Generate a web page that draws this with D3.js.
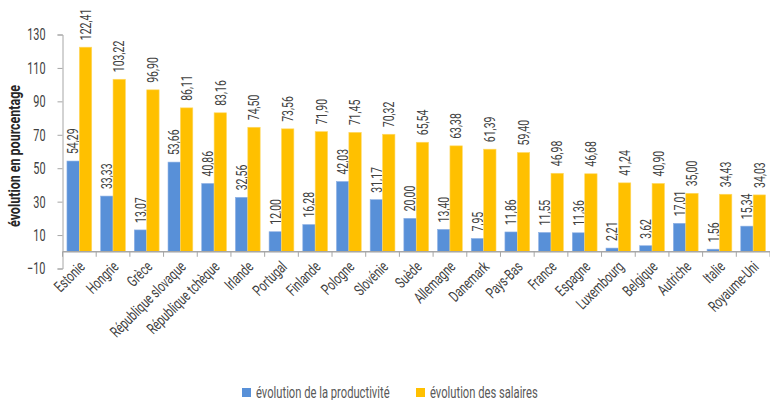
<!DOCTYPE html>
<html>
<head>
<meta charset="utf-8">
<script src="https://cdn.jsdelivr.net/npm/d3@7"></script>
<style>
  html, body { margin: 0; padding: 0; background: #fff; }
  svg { display: block; }
  text { font-family: Roboto, "Liberation Sans", sans-serif; }
</style>
</head>
<body>
<svg id="chart" width="770" height="400"></svg>
<script>
// Pays, classés par évolution des salaires
const countries = ["Estonie", "Hongrie", "Grèce", "République slovaque", "République tchèque",
  "Irlande", "Portugal", "Finlande", "Pologne", "Slovénie", "Suède", "Allemagne", "Danemark",
  "Pays-Bas", "France", "Espagne", "Luxembourg", "Belgique", "Autriche", "Italie", "Royaume-Uni"];
const productivity = [54.29, 33.33, 13.07, 53.66, 40.86, 32.56, 12.00, 16.28, 42.03, 31.17,
  20.00, 13.40, 7.95, 11.86, 11.55, 11.36, 2.21, 3.62, 17.01, 1.56, 15.34];
const wages = [122.41, 103.22, 96.90, 86.11, 83.16, 74.50, 73.56, 71.90, 71.45, 70.32,
  65.54, 63.38, 61.39, 59.40, 46.98, 46.68, 41.24, 40.90, 35.00, 34.43, 34.03];
const yTicks = [-10, 10, 30, 50, 70, 90, 110, 130];
const seriesNames = ["évolution de la productivité", "évolution des salaires"];
const seriesColors = ["#5890d8", "#ffc000"];

const svg = d3.select("#chart");
const plotLeft = 62.5, plotRight = 770, plotTop = 34.5, plotBottom = 268.5;
const narrow = 0.7;   // compression horizontale de la police (style condensé)

const x = d3.scaleBand().domain(countries).range([plotLeft, plotRight]).paddingInner(0).paddingOuter(0);
const xs = d3.scaleBand().domain([0, 1]).range([0, x.bandwidth()]).paddingInner(0).paddingOuter(0.36);
const y = d3.scaleLinear().domain([-10, 130]).range([plotBottom, plotTop]);

const fmt = v => d3.format(".2f")(v).replace(".", ",");

// axe vertical
const yAxis = svg.append("g")
  .attr("transform", `translate(${plotLeft},0)`)
  .call(d3.axisLeft(y).tickValues(yTicks).tickSize(5).tickFormat(""));
yAxis.select(".domain").attr("stroke", "#a6a6a6");
yAxis.selectAll(".tick line").attr("stroke", "#a6a6a6");
svg.append("g").selectAll("text")
  .data(yTicks)
  .join("text")
  .attr("transform", d => `translate(45.5,${y(d)}) scale(0.66,1)`)
  .attr("dy", "0.36em")
  .attr("text-anchor", "end")
  .attr("fill", "#404040")
  .style("font-size", "16.5px")
  .text(d => d3.format("d")(d));

// titre de l'axe
svg.append("text")
  .attr("transform", `translate(20,156) rotate(-90) scale(0.78,1)`)
  .attr("text-anchor", "middle")
  .attr("fill", "#262626")
  .style("font-size", "16px")
  .style("font-weight", "bold")
  .text("évolution en pourcentage");

// barres
const groups = svg.append("g").selectAll("g")
  .data(countries)
  .join("g")
  .attr("transform", d => `translate(${x(d)},0)`);

const series = [productivity, wages];
series.forEach((vals, s) => {
  groups.append("rect")
    .attr("x", xs(s))
    .attr("width", xs.bandwidth())
    .attr("y", (d, i) => y(Math.max(0, vals[i])))
    .attr("height", (d, i) => Math.abs(y(vals[i]) - y(0)))
    .attr("fill", seriesColors[s])
    .attr("stroke", s === 0 ? "#8db0e4" : "#ffd966")
    .attr("stroke-width", 0.6);

  groups.append("text")
    .attr("transform", (d, i) => `translate(${xs(s) + xs.bandwidth() / 2},${y(vals[i]) - 7}) rotate(-90) scale(${narrow},1)`)
    .attr("dy", "0.35em")
    .attr("text-anchor", "start")
    .attr("fill", "#404040")
    .style("font-size", "15px")
    .text((d, i) => fmt(vals[i]));
});

// axe horizontal à zéro
svg.append("line")
  .attr("x1", plotLeft).attr("x2", plotRight)
  .attr("y1", y(0)).attr("y2", y(0))
  .attr("stroke", "#a6a6a6").attr("stroke-width", 1.5);
svg.append("g").selectAll("line")
  .data(d3.range(countries.length + 1))
  .join("line")
  .attr("x1", i => plotLeft + i * x.bandwidth())
  .attr("x2", i => plotLeft + i * x.bandwidth())
  .attr("y1", y(0))
  .attr("y2", y(0) + 5)
  .attr("stroke", "#a6a6a6");

// étiquettes des pays
svg.append("g").selectAll("text")
  .data(countries)
  .join("text")
  .attr("transform", d => `translate(${x(d) + x.bandwidth() / 2 + 6.5},${y(0) + 16}) rotate(-45) scale(${narrow},1)`)
  .attr("text-anchor", "end")
  .attr("fill", "#404040")
  .style("font-size", "15.5px")
  .text(d => d);

// légende
const legend = svg.append("g").attr("transform", "translate(242,388)");
const legendX = [0, 174];
seriesNames.forEach((name, s) => {
  const g = legend.append("g").attr("transform", `translate(${legendX[s]},0)`);
  g.append("rect").attr("width", 9).attr("height", 9).attr("fill", seriesColors[s]);
  g.append("text")
    .attr("transform", `translate(14,9.5) scale(${narrow},1)`)
    .attr("fill", "#595959")
    .style("font-size", "16px").text(name);
});
</script>
</body>
</html>
